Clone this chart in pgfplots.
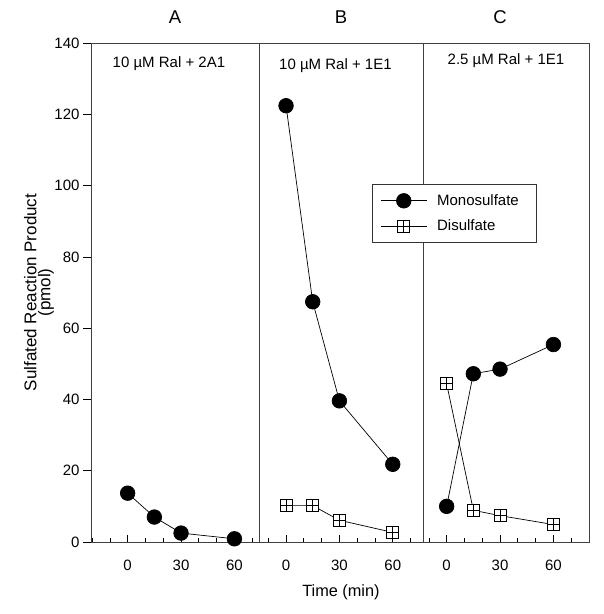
\documentclass[border=0pt]{standalone}
\usepackage{fontspec}
\setmainfont{Liberation Sans}
\usepackage{pgfplots}
\pgfplotsset{compat=1.18}
\usepgfplotslibrary{groupplots}

% open square with a cross inside
\pgfdeclareplotmark{sqplus}{%
  \pgfpathrectangle{\pgfpoint{-\pgfplotmarksize}{-\pgfplotmarksize}}%
    {\pgfpoint{2\pgfplotmarksize}{2\pgfplotmarksize}}%
  \pgfusepathqfillstroke
  \pgfpathmoveto{\pgfpoint{0pt}{-\pgfplotmarksize}}%
  \pgfpathlineto{\pgfpoint{0pt}{\pgfplotmarksize}}%
  \pgfpathmoveto{\pgfpoint{-\pgfplotmarksize}{0pt}}%
  \pgfpathlineto{\pgfpoint{\pgfplotmarksize}{0pt}}%
  \pgfusepathqstroke}

\pgfplotsset{
  mono/.style={black, line width=0.7pt, mark=*, mark size=7.3pt, mark options={fill=black}},
  di/.style={black, line width=0.7pt, mark=sqplus, mark size=6pt, mark options={fill=white, line width=0.7pt}},
}

\begin{document}
\begin{tikzpicture}[font=\fontsize{15}{18}\selectfont]
\begin{groupplot}[
    group style={group size=3 by 1, horizontal sep=0pt},
    scale only axis,
    height=499pt,
    ymin=0, ymax=140,
    clip=false,
    axis line style={black!75, line width=0.8pt},
    tick align=inside,
    xtick={0,30,60},
    minor xtick={-20,-10,10,20,40,50,70},
    xtick pos=bottom,
    major tick length=7pt,
    minor tick length=4pt,
    tick style={black, line width=0.7pt},
    xticklabel style={yshift=-14pt},
    /pgf/number format/assume math mode=true,
    title style={at={(axis description cs:0.5,1)}, anchor=center, yshift=20pt,
                 font=\fontsize{18.5}{20}\selectfont},
]

% ---- panel A
\nextgroupplot[
    width=168pt,
    xmin=-20.6, xmax=73.8,
    title={A},
    ytick={0,20,...,140},
    ytick pos=left,
    ytick style={xshift=-8pt, /pgfplots/major tick length=8pt},
    yticklabel style={xshift=-8pt},
    ylabel={Sulfated Reaction Product\\(pmol)},
    ylabel style={align=center, font=\fontsize{17}{14}\selectfont,
                  at={(axis description cs:-0.2,0.5)}, anchor=south},
]
\addplot[mono] coordinates {(0,13.7) (15,7.0) (30,2.5) (60,0.9)};
\node at (axis description cs:0.464,0.958) {10 µM Ral + 2A1};

% ---- panel B
\nextgroupplot[
    width=164pt,
    xmin=-15.2, xmax=77,
    title={B},
    ytick=\empty,
    xlabel={Time (min)},
    xlabel style={at={(axis description cs:0.5,-0.1)}, anchor=center,
                  font=\fontsize{16.3}{18}\selectfont},
]
\addplot[mono] coordinates {(0,122.4) (15,67.4) (30,39.6) (60,21.8)};
\addplot[di] coordinates {(0,10.2) (15,10.2) (30,6.1) (60,2.7)};
\node at (axis description cs:0.466,0.954) {10 µM Ral + 1E1};

% ---- panel C
\nextgroupplot[
    width=166pt,
    xmin=-13.3, xmax=80,
    title={C},
    title style={xshift=-6pt},
    ytick=\empty,
    legend style={at={(-0.307,0.717)}, anchor=north west, draw=black!80,
                  fill=white, line width=0.8pt, inner xsep=8pt, inner ysep=8pt,
                  row sep=9pt, column sep=8pt, font=\fontsize{15}{18}\selectfont},
    legend cell align=left,
    legend image code/.code={%
      \draw[mark repeat=2, mark phase=2, #1]
        plot coordinates {(0pt,0pt) (23pt,0pt) (46pt,0pt)};},
]
\addplot[mono] coordinates {(0,10.0) (15,47.2) (30,48.5) (60,55.4)};
\addlegendentry{Monosulfate\hspace*{8pt}}
\addplot[di] coordinates {(0,44.4) (15,8.9) (30,7.4) (60,4.9)};
\addlegendentry{Disulfate}
\node at (axis description cs:0.5,0.964) {2.5 µM Ral + 1E1};
\end{groupplot}
\path (group c1r1.south west) ++(-91pt,-72pt) rectangle ++(604pt,614pt);
\end{tikzpicture}
\end{document}
